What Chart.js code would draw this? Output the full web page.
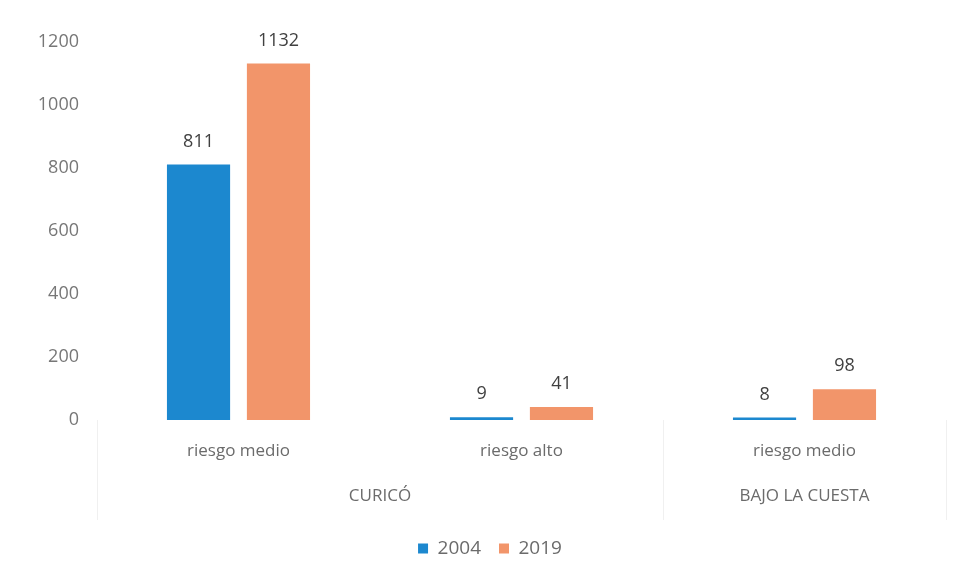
<!DOCTYPE html>
<html lang="es">

<head>
    <meta charset="UTF-8">
    <meta name="viewport" content="width=device-width, initial-scale=1.0">
    <script src="https://cdn.jsdelivr.net/npm/chart.js"></script>
    <title>Riesgo 2004 - 2019</title>
    <style>
        body {
            margin: 0;
            background: #ffffff;
        }

        .chart-box {
            width: 961px;
            height: 574px;
        }
    </style>
</head>

<body>
    <div class="chart-box">
        <canvas id="riesgoChart"></canvas>
    </div>
    <script>
        // categorias del eje x y su agrupacion por sector
        const categorias = ['riesgo medio', 'riesgo alto', 'riesgo medio'];
        const grupos = [
            { nombre: 'CURICÓ', desde: 0, hasta: 1 },
            { nombre: 'BAJO LA CUESTA', desde: 2, hasta: 2 }
        ];

        const anios = ['2004', '2019'];
        const valores2004 = [811, 9, 8];
        const valores2019 = [1132, 41, 98];

        const ticksY = [0, 200, 400, 600, 800, 1000, 1200];

        const fuente = "'Open Sans', 'Noto Sans', sans-serif";

        // etiquetas con el valor encima de cada barra
        const etiquetasValor = {
            id: 'etiquetasValor',
            afterDatasetsDraw(chart) {
                const ctx = chart.ctx;
                ctx.save();
                ctx.font = '18px ' + fuente;
                ctx.fillStyle = '#404040';
                ctx.textAlign = 'center';
                ctx.textBaseline = 'bottom';
                chart.data.datasets.forEach(function (ds, i) {
                    chart.getDatasetMeta(i).data.forEach(function (bar, j) {
                        ctx.fillText(ds.data[j], bar.x, bar.y - 14);
                    });
                });
                ctx.restore();
            }
        };

        // segundo nivel del eje x: nombre del sector y lineas divisorias
        const ejeGrupos = {
            id: 'ejeGrupos',
            afterDraw(chart) {
                const ctx = chart.ctx;
                const x = chart.scales.x;
                const paso = x.getPixelForValue(1) - x.getPixelForValue(0);
                ctx.save();
                ctx.strokeStyle = '#f0f0f0';
                ctx.lineWidth = 1;
                grupos.forEach(function (g, i) {
                    const izq = x.getPixelForValue(g.desde) - paso / 2;
                    const der = x.getPixelForValue(g.hasta) + paso / 2;
                    ctx.beginPath();
                    if (i === 0) {
                        ctx.moveTo(Math.round(izq) + 0.5, x.top);
                        ctx.lineTo(Math.round(izq) + 0.5, x.top + 100);
                    }
                    ctx.moveTo(Math.round(der) + 0.5, x.top);
                    ctx.lineTo(Math.round(der) + 0.5, x.top + 100);
                    ctx.stroke();

                    ctx.font = '17px ' + fuente;
                    ctx.fillStyle = '#6b6b6b';
                    ctx.textAlign = 'center';
                    ctx.textBaseline = 'middle';
                    ctx.fillText(g.nombre, (izq + der) / 2, x.top + 76);
                });
                ctx.restore();
            }
        };

        const ctxRiesgo = document.getElementById('riesgoChart').getContext('2d');
        const riesgoChart = new Chart(ctxRiesgo, {
            type: 'bar',
            data: {
                labels: categorias,
                datasets: [{
                    label: anios[0],
                    data: valores2004,
                    backgroundColor: '#1c88cf'
                }, {
                    label: anios[1],
                    data: valores2019,
                    backgroundColor: '#f2956a'
                }]
            },
            options: {
                responsive: true,
                maintainAspectRatio: false,
                animation: false,
                datasets: {
                    bar: {
                        barPercentage: 0.79,
                        categoryPercentage: 0.565
                    }
                },
                layout: {
                    padding: { top: 42, left: 34, right: 15, bottom: 6 }
                },
                scales: {
                    x: {
                        grid: { display: false, drawTicks: false },
                        border: { display: false },
                        ticks: {
                            padding: 21,
                            color: '#6b6b6b',
                            font: { family: fuente, size: 17 }
                        },
                        afterFit(scale) {
                            scale.height = 101;
                        }
                    },
                    y: {
                        min: 0,
                        max: 1200,
                        grid: { display: false, drawTicks: false },
                        border: { display: false },
                        afterBuildTicks(scale) {
                            scale.ticks = ticksY.map(v => ({ value: v }));
                        },
                        afterFit(scale) {
                            scale.width = 63;
                        },
                        ticks: {
                            padding: 18,
                            color: '#777777',
                            font: { family: fuente, size: 18 },
                            callback: v => String(v)
                        }
                    }
                },
                plugins: {
                    legend: {
                        position: 'bottom',
                        labels: {
                            boxWidth: 10,
                            boxHeight: 10,
                            padding: 18,
                            color: '#6b6b6b',
                            font: { family: fuente, size: 19 }
                        }
                    },
                    tooltip: { enabled: false }
                }
            },
            plugins: [etiquetasValor, ejeGrupos]
        });
    </script>
</body>

</html>
